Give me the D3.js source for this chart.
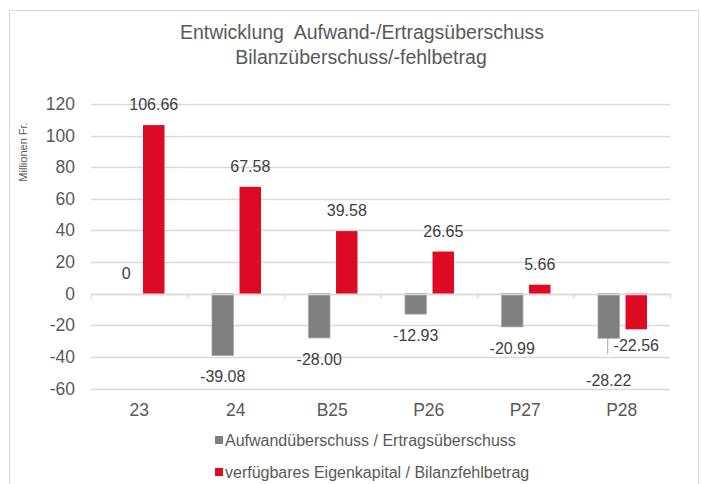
<head>
    <meta charset="utf-8">
    <title>Entwicklung</title>
    <script src="https://d3js.org/d3.v7.min.js"></script>
    <style>
        body { margin: 0; background: #fff; }
        text { font-family: "Liberation Sans", Arial, sans-serif; }
    </style>
</head>

<body>
    <svg width="701" height="484"></svg>
    <script>
        // data
        var categories = ["23", "24", "B25", "P26", "P27", "P28"];
        var seriesNames = ["Aufwandüberschuss / Ertragsüberschuss", "verfügbares Eigenkapital / Bilanzfehlbetrag"];
        var grayValues = [0, -39.08, -28.00, -12.93, -20.99, -28.22];
        var redValues = [106.66, 67.58, 39.58, 26.65, 5.66, -22.56];
        var yTicks = [-60, -40, -20, 0, 20, 40, 60, 80, 100, 120];
        var colors = ["#7f7f7f", "#dc0a23"];

        var svg = d3.select("svg");

        // chart frame
        svg.append("rect")
            .attr("x", 9.5).attr("y", 10.5)
            .attr("width", 689).attr("height", 490)
            .attr("fill", "none").attr("stroke", "#d9d9d9");

        // title
        var title = svg.append("text")
            .attr("text-anchor", "middle")
            .attr("fill", "#595959")
            .style("font-size", "19.5px");
        title.append("tspan").attr("x", 362).attr("y", 39).text("Entwicklung\u00a0 Aufwand-/Ertragsüberschuss");
        title.append("tspan").attr("x", 361).attr("y", 64).text("Bilanzüberschuss/-fehlbetrag");

        var x = d3.scaleBand().domain(categories).range([91, 670]);
        var x1 = d3.scaleBand().domain([0, 1]).range([24.5, 73.5]).paddingInner(0.22);
        var y = d3.scaleLinear().domain([-60, 120]).range([388.5, 104]);

        // gridlines
        svg.append("g").selectAll("line")
            .data(yTicks)
            .enter().append("line")
            .attr("x1", 91).attr("x2", 670)
            .attr("y1", function (d) { return Math.round(y(d)) + 0.5; })
            .attr("y2", function (d) { return Math.round(y(d)) + 0.5; })
            .attr("stroke", "#d9d9d9").attr("stroke-width", 1.3);

        // y tick labels
        svg.append("g").selectAll("text")
            .data(yTicks)
            .enter().append("text")
            .attr("x", 75)
            .attr("y", function (d) { return y(d) + 6; })
            .attr("text-anchor", "end")
            .attr("fill", "#595959")
            .style("font-size", "17.5px")
            .text(function (d) { return d; });

        svg.append("text")
            .attr("transform", "translate(27,152) rotate(-90)")
            .attr("text-anchor", "middle")
            .attr("fill", "#595959")
            .style("font-size", "11px")
            .text("Millionen Fr.");

        // bars
        var rows = categories.map(function (c, i) {
            return { cat: c, vals: [grayValues[i], redValues[i]] };
        });

        var groups = svg.append("g").selectAll("g")
            .data(rows)
            .enter().append("g")
            .attr("transform", function (d) { return "translate(" + x(d.cat) + ",0)"; });

        groups.selectAll("rect")
            .data(function (d) { return d.vals.map(function (v, s) { return { v: v, s: s, cat: d.cat }; }); })
            .enter().append("rect")
            .filter(function (d) { return d.v !== 0; })
            .attr("x", function (d) { return x1(d.s); })
            .attr("width", x1.bandwidth())
            .attr("y", function (d) { return y(Math.max(0, d.v)); })
            .attr("height", function (d) { return Math.abs(y(d.v) - y(0)); })
            .attr("fill", function (d) { return colors[d.s]; })
            .attr("stroke", function (d) { return d.s === 0 ? "#a6a6a6" : "none"; })
            .attr("stroke-width", 0.8);

        // zero axis with category ticks
        svg.append("line")
            .attr("x1", 91).attr("x2", 670)
            .attr("y1", Math.round(y(0)) + 0.5).attr("y2", Math.round(y(0)) + 0.5)
            .attr("stroke", "#d9d9d9").attr("stroke-width", 1.3);
        svg.append("g").selectAll("line")
            .data(categories.concat(["end"]))
            .enter().append("line")
            .attr("x1", function (d, i) { return 91 + i * x.step() + 0.5; })
            .attr("x2", function (d, i) { return 91 + i * x.step() + 0.5; })
            .attr("y1", y(0)).attr("y2", y(0) + 5)
            .attr("stroke", "#d9d9d9").attr("stroke-width", 1.3);

        // category labels
        svg.append("g").selectAll("text")
            .data(categories)
            .enter().append("text")
            .attr("x", function (d) { return x(d) + x.bandwidth() / 2; })
            .attr("y", 416)
            .attr("text-anchor", "middle")
            .attr("fill", "#595959")
            .style("font-size", "17.5px")
            .text(function (d) { return d; });

        // data labels (P28 labels were moved by hand in the original)
        var nudge = { "P28": [21, -5] };
        function fmt(v) { return v === 0 ? "0" : v.toFixed(2); }

        groups.each(function (d) {
            var g = d3.select(this);
            d.vals.forEach(function (v, s) {
                var cx = x1(s) + x1.bandwidth() / 2;
                var base = v >= 0 ? y(v) - 15 : y(v) + 27;
                var dy = nudge[d.cat] ? nudge[d.cat][s] : 0;
                if (dy > 0) {
                    g.append("line")
                        .attr("x1", cx - 1).attr("x2", cx - 1)
                        .attr("y1", y(v)).attr("y2", y(v) + 16)
                        .attr("stroke", "#a6a6a6").attr("stroke-width", 1);
                }
                g.append("text")
                    .attr("x", cx)
                    .attr("y", base + dy)
                    .attr("text-anchor", "middle")
                    .attr("fill", "#404040")
                    .style("font-size", "16px")
                    .text(fmt(v));
            });
        });

        // legend
        var legend = svg.append("g").selectAll("g")
            .data(seriesNames)
            .enter().append("g")
            .attr("transform", function (d, i) { return "translate(215," + (440 + i * 32) + ")"; });
        legend.append("rect")
            .attr("x", 0).attr("y", -4)
            .attr("width", 8).attr("height", 8)
            .attr("fill", function (d, i) { return colors[i]; });
        legend.append("text")
            .attr("x", 10).attr("y", 6)
            .attr("fill", "#595959")
            .style("font-size", "16px")
            .text(function (d) { return d; });
    </script>

</body>
